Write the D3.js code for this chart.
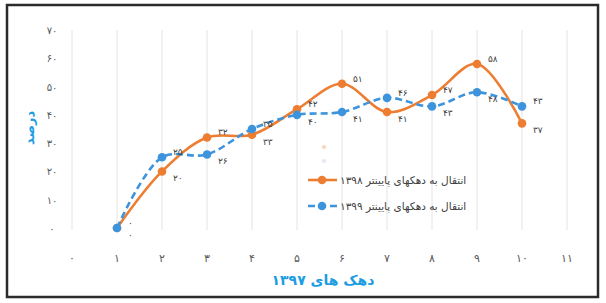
<!DOCTYPE html>
<html>
<head>
<meta charset="utf-8">
<script src="https://cdn.jsdelivr.net/npm/d3@7"></script>
<style>
  body { margin: 0; background: #fff; }
  svg { display: block; font-family: "DejaVu Sans", sans-serif; }
</style>
</head>
<body>
<svg id="chart" width="606" height="303"></svg>
<script>
// دهک ها و مقادیر
var deciles = [1, 2, 3, 4, 5, 6, 7, 8, 9, 10];
var lower1398 = [0, 20, 32, 33, 42, 51, 41, 47, 58, 37];
var lower1399 = [0, 25, 26, 35, 40, 41, 46, 43, 48, 43];
var xTicks = [0, 1, 2, 3, 4, 5, 6, 7, 8, 9, 10, 11];
var yTicks = [0, 10, 20, 30, 40, 50, 60, 70];
var seriesNames = ["انتقال به دهکهای پایینتر ۱۳۹۸", "انتقال به دهکهای پایینتر ۱۳۹۹"];
var xTitle = "دهک های ۱۳۹۷";
var yTitle = "درصد";

function fa(n) {
    return String(n).replace(/\d/g, function (d) { return "۰۱۲۳۴۵۶۷۸۹"[+d]; });
}

var svg = d3.select("#chart");
var x = d3.scaleLinear().domain([0, 11]).range([72, 567]);
var y = d3.scaleLinear().domain([0, 70]).range([228, 30]);

// frame
svg.append("rect").attr("x", 7).attr("y", 5).attr("width", 591).attr("height", 292)
    .attr("fill", "#fff").attr("stroke", "#2b2b2b").attr("stroke-width", 2.5);

// vertical gridlines
svg.append("g").selectAll("line").data(xTicks).enter().append("line")
    .attr("x1", function (d) { return x(d); }).attr("x2", function (d) { return x(d); })
    .attr("y1", y(70)).attr("y2", y(0) + 2)
    .attr("stroke", "#e4e4e4").attr("stroke-width", 1);

// tick labels
svg.append("g").selectAll("text").data(yTicks).enter().append("text")
    .attr("x", 52).attr("y", function (d) { return y(d) + 4; })
    .attr("text-anchor", "middle").attr("font-size", 10).attr("fill", "#595959")
    .text(function (d) { return fa(d); });
svg.append("g").selectAll("text").data(xTicks).enter().append("text")
    .attr("x", function (d) { return x(d); }).attr("y", 262)
    .attr("text-anchor", "middle").attr("font-size", 11).attr("fill", "#595959")
    .text(function (d) { return fa(d); });

// axis titles
svg.append("text").attr("x", 323).attr("y", 285).attr("text-anchor", "middle")
    .attr("font-size", 14).attr("font-weight", "bold").attr("fill", "#1c9de2").text(xTitle);
svg.append("text").attr("transform", "translate(34,128) rotate(-90)").attr("text-anchor", "middle")
    .attr("font-size", 13).attr("font-weight", "bold").attr("fill", "#1c9de2").text(yTitle);

var line = d3.line().curve(d3.curveCatmullRom.alpha(0.5))
    .x(function (d, i) { return x(deciles[i]); })
    .y(function (d) { return y(d); });

var series = [
    { values: lower1398, other: lower1399, color: "#ed7d31", dash: null, first: true },
    { values: lower1399, other: lower1398, color: "#3d94dc", dash: "7,4", first: false }
];

series.forEach(function (s) {
    var g = svg.append("g");
    g.append("path").attr("d", line(s.values)).attr("fill", "none")
        .attr("stroke", s.color).attr("stroke-width", 2.6)
        .attr("stroke-dasharray", s.dash);
    g.selectAll("circle").data(s.values).enter().append("circle")
        .attr("cx", function (d, i) { return x(deciles[i]); })
        .attr("cy", function (d) { return y(d); })
        .attr("r", 4.3).attr("fill", s.color);
    // label above when this series is higher at the point, below otherwise
    g.selectAll("text").data(s.values).enter().append("text")
        .attr("x", function (d, i) { return x(deciles[i]) + 11; })
        .attr("y", function (d, i) {
            var up = d > s.other[i] || (d === s.other[i] && s.first);
            return y(d) + (up ? -2 : 10);
        })
        .attr("font-size", 9).attr("fill", "#404040")
        .text(function (d) { return fa(d); });
});

// legend
var lg = svg.append("g");
lg.append("circle").attr("cx", 324).attr("cy", 147).attr("r", 2).attr("fill", "#f9d3bd");
lg.append("circle").attr("cx", 324).attr("cy", 161).attr("r", 2).attr("fill", "#e3e8f2");
series.forEach(function (s, i) {
    var ly = 180 + i * 26;
    lg.append("line").attr("x1", 308).attr("x2", 337).attr("y1", ly).attr("y2", ly)
        .attr("stroke", s.color).attr("stroke-width", 2.6).attr("stroke-dasharray", s.dash);
    lg.append("circle").attr("cx", 322).attr("cy", ly).attr("r", 4.3).attr("fill", s.color);
    lg.append("text").attr("x", 340).attr("y", ly + 4).attr("font-size", 10.5)
        .attr("fill", "#404040").text(seriesNames[i]);
});
</script>
</body>
</html>
